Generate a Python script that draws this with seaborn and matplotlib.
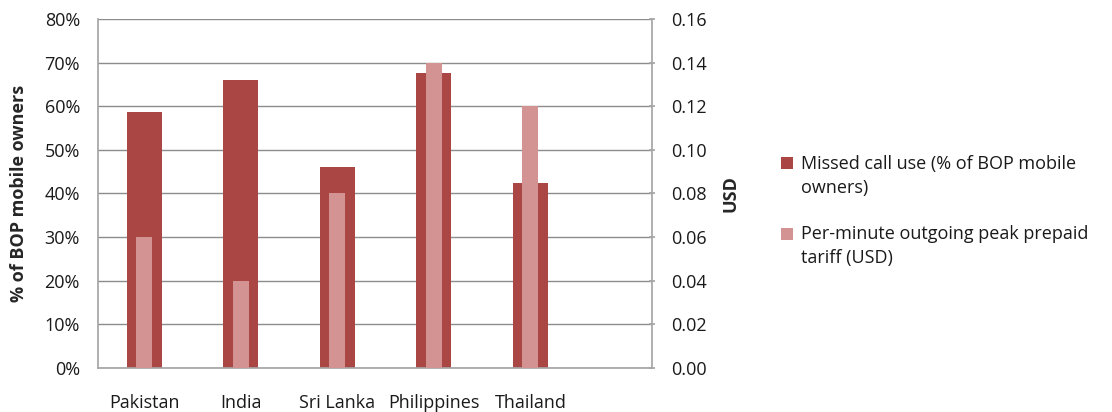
import matplotlib
matplotlib.use("Agg")
import matplotlib.pyplot as plt
from matplotlib.patches import Patch
from matplotlib.ticker import FuncFormatter
import seaborn as sns

countries = ["Pakistan", "India", "Sri Lanka", "Philippines", "Thailand"]
missed_call_pct = [58.7, 66.0, 46.1, 67.6, 42.4]
tariff_usd = [0.06, 0.04, 0.08, 0.14, 0.12]

dark_red = "#AA4644"
light_red = "#D39392"
grid_gray = "#8C8C8C"
text_color = "#1A1A1A"
fs = 13

sns.set_theme(style="white")
plt.rcParams["font.family"] = ["Open Sans", "DejaVu Sans"]
plt.rcParams["text.color"] = text_color

fig = plt.figure(figsize=(11.12, 4.12), dpi=100)
ax = fig.add_axes([0.0881, 0.1068, 0.4982, 0.8471])

sns.barplot(x=countries, y=missed_call_pct, color=dark_red, saturation=1,
            width=0.363, linewidth=0, edgecolor="none", ax=ax, zorder=2)
ax2 = ax.twinx()
sns.barplot(x=countries, y=tariff_usd, color=light_red, saturation=1,
            width=0.166, linewidth=0, edgecolor="none", ax=ax2, zorder=3)

ax.set_xlim(-0.482, 5.259)
ax.set_ylim(0, 80)
ax2.set_ylim(0, 0.16)
ax.set_yticks(range(0, 81, 10))
ax2.set_yticks([i * 0.02 for i in range(9)])
ax.yaxis.set_major_formatter(FuncFormatter(lambda v, p: f"{v:.0f}%"))
ax2.yaxis.set_major_formatter(FuncFormatter(lambda v, p: f"{v:.2f}"))

ax.grid(axis="y", color=grid_gray, linewidth=1.0)
ax.set_axisbelow(True)

for a in (ax, ax2):
    for s in a.spines.values():
        s.set_visible(False)
ax.spines["left"].set_visible(True)
ax.spines["left"].set_color("#A6A6A6")
ax.spines["bottom"].set_visible(True)
ax.spines["bottom"].set_color("#A6A6A6")
ax2.spines["right"].set_visible(True)
ax2.spines["right"].set_color("#A6A6A6")

ax.tick_params(axis="y", labelsize=fs, length=0, pad=13, colors=text_color)
ax.tick_params(axis="x", labelsize=fs, length=0, pad=19, colors=text_color)
ax2.tick_params(axis="y", labelsize=fs, length=5, direction="inout",
                color="#A6A6A6", pad=11, labelcolor=text_color)

ax.set_ylabel("% of BOP mobile owners", fontsize=fs, fontweight="bold", labelpad=12)
ax2.set_ylabel("USD", fontsize=fs, fontweight="bold", labelpad=11)
ax.set_xlabel("")

handles = [Patch(facecolor=dark_red, edgecolor="none"),
           Patch(facecolor=light_red, edgecolor="none")]
labels = ["Missed call use (% of BOP mobile\nowners)",
          "Per-minute outgoing peak prepaid\ntariff (USD)"]
leg = fig.legend(handles, labels, loc="upper left", bbox_to_anchor=(0.688, 0.664),
                 frameon=False, fontsize=fs, handlelength=0.65, handleheight=0.65,
                 handletextpad=0.45, labelspacing=1.55)
for t in leg.get_texts():
    t.set_linespacing(1.45)
# keep each swatch level with the first line of its two-line label
for h in leg.legend_handles:
    h.set_y(h.get_y() + 9.5)

fig.savefig("out.png", dpi=100)
